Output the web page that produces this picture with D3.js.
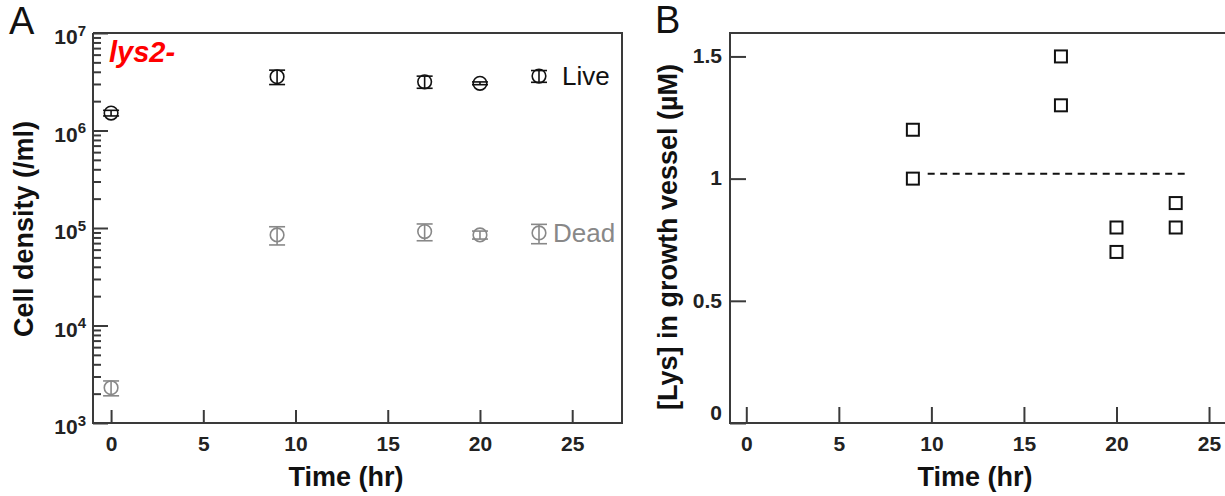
<!DOCTYPE html>
<meta charset="utf-8">
<style>
body { margin: 0; background: #fff; }
svg { font-family: "Liberation Sans", Arial, sans-serif; }
.tick line { stroke: #3a3a3a; stroke-width: 2; }
.tick text { font-weight: bold; font-size: 21px; fill: #222; }
.frame { stroke: #3a3a3a; stroke-width: 2; fill: none; }
.title { font-weight: bold; font-size: 27px; fill: #111; }
</style>
<svg width="1225" height="496"></svg>
<script src="https://d3js.org/d3.v7.min.js"></script>
<script>

// panel A: cell density (/ml) of lys2- cells
var timeA = [0, 9, 17, 20, 23.2];
var liveVals = [1.51e6, 3.56e6, 3.16e6, 3.05e6, 3.62e6];
var liveErr = [0.1e6, 0.6e6, 0.45e6, 0.1e6, 0.5e6];
var deadVals = [2300, 8.5e4, 9.2e4, 8.5e4, 8.9e4];
var deadErr = [400, 1.8e4, 1.8e4, 0.8e4, 2e4];
var yTicksA = [1e3, 1e4, 1e5, 1e6, 1e7];

// panel B: [Lys] in growth vessel (uM), two replicates per time
var timeB = [9, 9, 17, 17, 20, 20, 23.2, 23.2];
var lysVals = [1.2, 1.0, 1.5, 1.3, 0.8, 0.7, 0.9, 0.8];
var refTime = [9.8, 23.8];
var refVals = [1.02, 1.02];
var yTicksB = [0, 0.5, 1, 1.5];
var xTicks = [0, 5, 10, 15, 20, 25];

var svg = d3.select("svg");

var xA = d3.scaleLinear().domain([-0.98, 27.7]).range([93, 622]),
    yA = d3.scaleLog().domain([1e3, 1e7]).range([423, 33]),
    xB = d3.scaleLinear().domain([-0.88, 27.7]).range([730, 1259]),
    yB = d3.scaleLinear().domain([0, 1.6]).range([423, 32]);

// ---- panel A ----
var minorA = [];
yTicksA.slice(0, -1).forEach(function(p) {
  for (var k = 2; k < 10; k++) minorA.push(p * k);
});

svg.append("g")
    .attr("transform", "translate(0,423)")
    .call(d3.axisBottom(xA).tickValues(xTicks).tickSize(-13).tickPadding(13))
    .call(function(g) { g.select(".domain").remove(); });

svg.append("g")
    .attr("transform", "translate(93,0)")
    .call(d3.axisLeft(yA).tickValues(minorA).tickSize(-8).tickFormat(""))
    .call(function(g) { g.select(".domain").remove(); });

var yAxA = svg.append("g")
    .attr("transform", "translate(93,0)")
    .call(d3.axisLeft(yA).tickValues(yTicksA).tickSize(-15).tickPadding(6).tickFormat(""))
    .call(function(g) { g.select(".domain").remove(); });

yAxA.selectAll(".tick text")
    .attr("x", -7)
    .attr("dy", "0.5em")
    .attr("text-anchor", "end")
    .each(function(d) {
      var t = d3.select(this);
      t.append("tspan").text("10");
      t.append("tspan").attr("dy", "-0.55em").style("font-size", "15px")
        .text(Math.round(Math.log10(d)));
    });

svg.append("path").attr("class", "frame")
    .attr("d", "M93,33V423H622V33H93");

// error bars + circles
function drawSeries(vals, errs, color) {
  var g = svg.append("g").attr("stroke", color).attr("fill", "none").attr("stroke-width", 1.6);
  vals.forEach(function(v, i) {
    var cx = xA(timeA[i]), y0 = yA(v - errs[i]), y1 = yA(v + errs[i]);
    g.append("line").attr("x1", cx).attr("x2", cx).attr("y1", y0).attr("y2", y1);
    g.append("line").attr("x1", cx - 8).attr("x2", cx + 8).attr("y1", y0).attr("y2", y0);
    g.append("line").attr("x1", cx - 8).attr("x2", cx + 8).attr("y1", y1).attr("y2", y1);
    g.append("circle").attr("cx", cx).attr("cy", yA(v)).attr("r", 6.8);
  });
}
drawSeries(liveVals, liveErr, "#111");
drawSeries(deadVals, deadErr, "#888");

svg.append("text")
    .attr("x", xA(timeA[4]) + 23).attr("y", yA(liveVals[4]) + 9)
    .style("font-size", "26px").attr("fill", "#111").text("Live");
svg.append("text")
    .attr("x", xA(timeA[4]) + 14).attr("y", yA(deadVals[4]) + 9)
    .style("font-size", "26px").attr("fill", "#888").text("Dead");

svg.append("text")
    .attr("x", 109).attr("y", 62)
    .style("font-size", "29px").style("font-weight", "bold").style("font-style", "italic")
    .attr("fill", "#ff0000").text("lys2-");

svg.append("text").attr("class", "title")
    .attr("x", 346).attr("y", 486).attr("text-anchor", "middle").text("Time (hr)");
svg.append("text").attr("class", "title")
    .attr("transform", "translate(33,229) rotate(-90)")
    .attr("text-anchor", "middle").text("Cell density (/ml)");

svg.append("text").attr("x", 9).attr("y", 34).style("font-size", "38px").attr("fill", "#111").text("A");

// ---- panel B ----
svg.append("g")
    .attr("transform", "translate(0,423)")
    .call(d3.axisBottom(xB).tickValues(xTicks).tickSize(-16).tickPadding(13))
    .call(function(g) { g.select(".domain").remove(); });

svg.append("g")
    .attr("transform", "translate(730,0)")
    .call(d3.axisLeft(yB).tickValues(yTicksB).tickSize(-16).tickPadding(8).tickFormat(function(d) { return d; }))
    .call(function(g) { g.select(".domain").remove(); })
    .call(function(g) {
      g.selectAll(".tick text").attr("dy", function(d) { return d === 0 ? "-0.15em" : "0.3em"; });
    });

svg.append("path").attr("class", "frame")
    .attr("d", "M1259,33H730V423H1259");

svg.append("line")
    .attr("x1", xB(refTime[0])).attr("x2", xB(refTime[1]))
    .attr("y1", yB(refVals[0])).attr("y2", yB(refVals[1]))
    .attr("stroke", "#111").attr("stroke-width", 2).attr("stroke-dasharray", "7,5.5");

svg.append("g").selectAll("rect")
  .data(lysVals)
  .join("rect")
    .attr("x", function(d, i) { return xB(timeB[i]) - 6; })
    .attr("y", function(d) { return yB(d) - 6; })
    .attr("width", 12).attr("height", 12)
    .attr("fill", "#fff").attr("stroke", "#111").attr("stroke-width", 2);

svg.append("text").attr("class", "title")
    .attr("x", 975).attr("y", 486).attr("text-anchor", "middle").text("Time (hr)");
svg.append("text").attr("class", "title")
    .attr("transform", "translate(677,237) rotate(-90)")
    .attr("text-anchor", "middle").text("[Lys] in growth vessel (µM)");

svg.append("text").attr("x", 655).attr("y", 33).style("font-size", "38px").attr("fill", "#111").text("B");

</script>
